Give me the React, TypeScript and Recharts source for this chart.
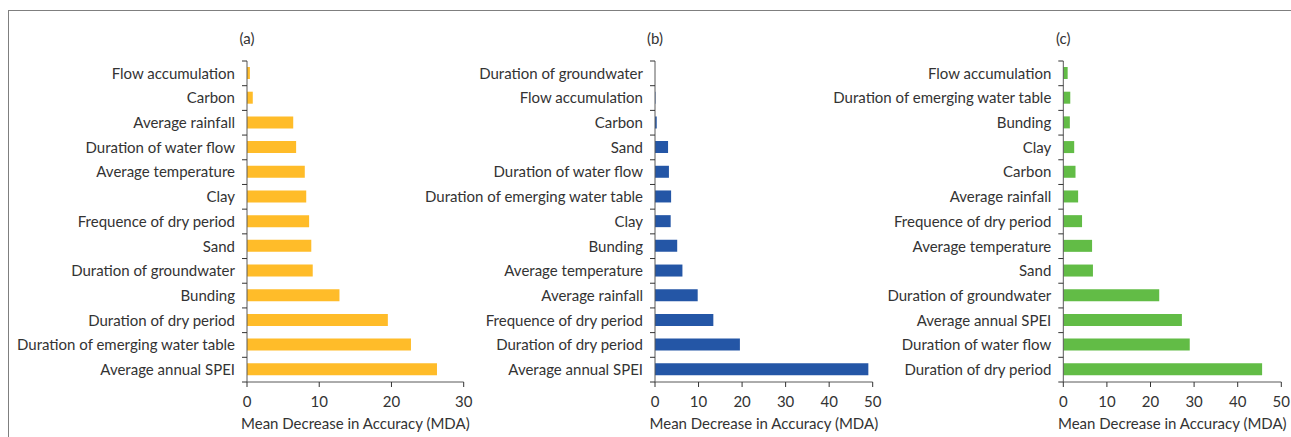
import { BarChart, Bar, XAxis, YAxis } from "recharts";

// panel (a)
const catsA = [
  "Flow accumulation", "Carbon", "Average rainfall", "Duration of water flow",
  "Average temperature", "Clay", "Frequence of dry period", "Sand",
  "Duration of groundwater", "Bunding", "Duration of dry period",
  "Duration of emerging water table", "Average annual SPEI",
];
const valsA = [0.4, 0.8, 6.4, 6.8, 8.0, 8.2, 8.6, 8.9, 9.1, 12.8, 19.5, 22.7, 26.3];

// panel (b)
const catsB = [
  "Duration of groundwater", "Flow accumulation", "Carbon", "Sand",
  "Duration of water flow", "Duration of emerging water table", "Clay", "Bunding",
  "Average temperature", "Average rainfall", "Frequence of dry period",
  "Duration of dry period", "Average annual SPEI",
];
const valsB = [0, 0.1, 0.4, 3.0, 3.2, 3.7, 3.6, 5.1, 6.3, 9.8, 13.4, 19.5, 49.0];

// panel (c)
const catsC = [
  "Flow accumulation", "Duration of emerging water table", "Bunding", "Clay",
  "Carbon", "Average rainfall", "Frequence of dry period", "Average temperature",
  "Sand", "Duration of groundwater", "Average annual SPEI", "Duration of water flow",
  "Duration of dry period",
];
const valsC = [1.0, 1.6, 1.5, 2.5, 2.8, 3.4, 4.3, 6.6, 6.8, 22.0, 27.2, 29.0, 45.6];

const ticksA = [0, 10, 20, 30];
const ticksBC = [0, 10, 20, 30, 40, 50];

const FONT = "Lato, 'Open Sans', sans-serif";
const FS = 15;
const TXT = "#333333";
const AXIS_C = "#595959";

const H = 437;
const M_TOP = 61;
const M_BOT = 5;
const X_H = 50;
const TICK = 5;
const GAP = 7;

// category label plus Excel-style tick on the band boundary above it
function CatTick(props: any) {
  const { x, y, payload, index, n } = props;
  const band = (H - M_TOP - M_BOT - X_H) / n;
  const ax = x + TICK + GAP;
  const top = y - band / 2;
  return (
    <g>
      <line x1={ax - TICK} x2={ax} y1={top} y2={top} stroke="#333" />
      {index === n - 1 && (
        <line x1={ax - TICK} x2={ax} y1={top + band} y2={top + band} stroke="#333" />
      )}
      <text x={x} y={y} dy="0.355em" textAnchor="end" fill={TXT}
        fontSize={FS} fontFamily={FONT}>{payload.value}</text>
    </g>
  );
}

type PanelProps = {
  title: string;
  cats: string[];
  vals: number[];
  ticks: number[];
  color: string;
  left: number;
  width: number;
  axisW: number;
  right: number;
};

function Panel({ title, cats, vals, ticks, color, left, width, axisW, right }: PanelProps) {
  const data = cats.map((c, i) => ({ name: c, v: vals[i] }));
  return (
    <div style={{ position: "absolute", left, top: 0, width, height: H }}>
      <div style={{
        position: "absolute", left: axisW - 40, width: 80, top: 28, textAlign: "center",
        fontFamily: FONT, fontSize: FS, color: TXT, lineHeight: "20px",
      }}>{title}</div>
      <BarChart
        width={width}
        height={H}
        data={data}
        layout="vertical"
        margin={{ top: M_TOP, right, bottom: M_BOT, left: 0 }}
        barSize={12}
        style={{ overflow: "visible" }}
      >
        <XAxis
          type="number"
          dataKey="v"
          domain={[ticks[0], ticks[ticks.length - 1]]}
          ticks={ticks}
          height={X_H}
          stroke={AXIS_C}
          tickSize={TICK}
          tickMargin={9}
          tickLine={{ stroke: "#333" }}
          tick={{ fill: TXT, fontSize: FS, fontFamily: FONT }}
          label={{
            value: "Mean Decrease in Accuracy (MDA)", position: "insideBottom", offset: 3,
            fill: TXT, fontSize: FS, fontFamily: FONT,
          }}
        />
        <YAxis
          type="category"
          dataKey="name"
          width={axisW}
          interval={0}
          stroke={AXIS_C}
          tickLine={false}
          tickSize={TICK}
          tickMargin={GAP}
          tick={<CatTick n={cats.length} />}
        />
        <Bar dataKey="v" fill={color} isAnimationActive={false} />
      </BarChart>
    </div>
  );
}

export default function App() {
  return (
    <div style={{
      position: "absolute", left: 0, top: 0, width: 1291, height: H,
      background: "#fff", overflow: "hidden",
    }}>
      <div style={{
        position: "absolute", left: 8, top: 10, width: 1400, height: 600,
        borderLeft: "1.5px solid #7f7f7f", borderTop: "1.5px solid #7f7f7f",
      }} />
      <Panel title="(a)" cats={catsA} vals={valsA} ticks={ticksA} color="#FFBC29"
        left={0} width={480} axisW={247} right={16.3} />
      <Panel title="(b)" cats={catsB} vals={valsB} ticks={ticksBC} color="#2456A6"
        left={400} width={490} axisW={255} right={17.3} />
      <Panel title="(c)" cats={catsC} vals={valsC} ticks={ticksBC} color="#62BC46"
        left={800} width={491} axisW={263.3} right={9.7} />
    </div>
  );
}
